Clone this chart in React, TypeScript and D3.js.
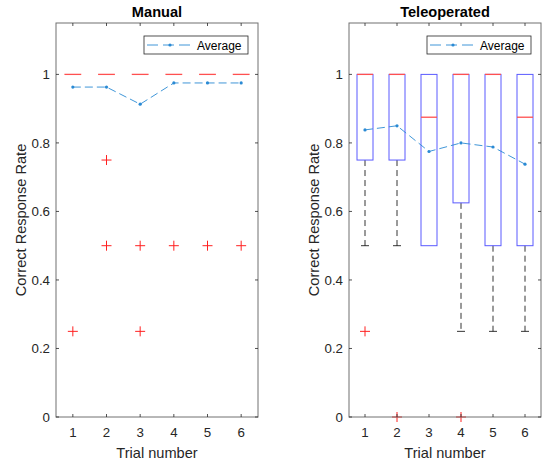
import React from 'react'
import { scaleLinear, line } from 'd3'

// values
const trials = [1, 2, 3, 4, 5, 6]
const yTicks = [0, 0.2, 0.4, 0.6, 0.8, 1]

const manualQ1 = [1, 1, 1, 1, 1, 1]
const manualMedian = [1, 1, 1, 1, 1, 1]
const manualQ3 = [1, 1, 1, 1, 1, 1]
const manualWhiskerLow = [1, 1, 1, 1, 1, 1]
const manualWhiskerHigh = [1, 1, 1, 1, 1, 1]
const manualOutliers = [[0.25], [0.75, 0.5], [0.5, 0.25], [0.5], [0.5], [0.5]]
const manualAverage = [0.963, 0.963, 0.913, 0.975, 0.975, 0.975]

const teleQ1 = [0.75, 0.75, 0.5, 0.625, 0.5, 0.5]
const teleMedian = [1, 1, 0.875, 1, 1, 0.875]
const teleQ3 = [1, 1, 1, 1, 1, 1]
const teleWhiskerLow = [0.5, 0.5, 0.5, 0.25, 0.25, 0.25]
const teleWhiskerHigh = [1, 1, 1, 1, 1, 1]
const teleOutliers = [[0.25], [0], [], [0], [], []]
const teleAverage = [0.838, 0.85, 0.775, 0.8, 0.788, 0.738]

const FONT = '"Liberation Sans", Arial, Helvetica, sans-serif'
const AXIS = '#262626'
const AVG = '#2a8ad4'

type PanelProps = {
  title: string
  left: number
  right: number
  q1: number[]
  median: number[]
  q3: number[]
  wLow: number[]
  wHigh: number[]
  outliers: number[][]
  average: number[]
}

const top = 23
const bottom = 417

function Panel(props: PanelProps) {
  const { title, left, right, q1, median, q3, wLow, wHigh, outliers, average } = props
  const x = scaleLinear().domain([0.5, 6.5]).range([left, right])
  const y = scaleLinear().domain([0, 1.15]).range([bottom, top])
  const boxW = x(1.25) - x(1)
  const capW = x(1.125) - x(1)
  const avgLine = line<number>()
    .x((d, i) => x(trials[i]))
    .y((d) => y(d))

  const legRight = right - 10
  const legLeft = legRight - 104
  const legTop = 36
  const legH = 18

  return (
    <g>
      <text x={(left + right) / 2} y={17} textAnchor="middle" fontFamily={FONT}
        fontWeight="bold" fontSize={14.6} fill="#000">{title}</text>

      {/* boxes */}
      {trials.map((t, i) => (
        <g key={'box' + t}>
          {wLow[i] < q1[i] && (
            <g>
              <line x1={x(t)} x2={x(t)} y1={y(q1[i])} y2={y(wLow[i])} stroke="#000"
                strokeWidth={0.8} strokeDasharray="6,4" />
              <line x1={x(t) - capW} x2={x(t) + capW} y1={y(wLow[i])} y2={y(wLow[i])}
                stroke="#000" strokeWidth={0.8} />
            </g>
          )}
          {wHigh[i] > q3[i] && (
            <g>
              <line x1={x(t)} x2={x(t)} y1={y(q3[i])} y2={y(wHigh[i])} stroke="#000"
                strokeWidth={0.8} strokeDasharray="6,4" />
              <line x1={x(t) - capW} x2={x(t) + capW} y1={y(wHigh[i])} y2={y(wHigh[i])}
                stroke="#000" strokeWidth={0.8} />
            </g>
          )}
          <rect x={x(t) - boxW} width={boxW * 2} y={y(q3[i])}
            height={Math.max(0, y(q1[i]) - y(q3[i]))} fill="none" stroke="#5a5aff" strokeWidth={1} />
          <line x1={x(t) - boxW} x2={x(t) + boxW} y1={y(median[i])} y2={y(median[i])}
            stroke="#ff5050" strokeWidth={1.3} />
          {outliers[i].map((o, j) => (
            <path key={j} d={`M${x(t) - 5},${y(o)}H${x(t) + 5}M${x(t)},${y(o) - 5}V${y(o) + 5}`}
              stroke="#ff2020" strokeWidth={1} fill="none" />
          ))}
        </g>
      ))}

      {/* average */}
      <path d={avgLine(average) || ''} fill="none" stroke={AVG} strokeWidth={0.9}
        strokeDasharray="8,4" />
      {average.map((a, i) => (
        <circle key={'av' + i} cx={x(trials[i])} cy={y(a)} r={1.6} fill={AVG} />
      ))}

      {/* frame and ticks */}
      <rect x={left} y={top} width={right - left} height={bottom - top} fill="none"
        stroke="#707070" strokeWidth={1} />
      {trials.map((t) => (
        <g key={'xt' + t}>
          <line x1={x(t)} x2={x(t)} y1={bottom} y2={bottom - 3} stroke={AXIS} strokeWidth={0.8} />
          <line x1={x(t)} x2={x(t)} y1={top} y2={top + 3} stroke={AXIS} strokeWidth={0.8} />
          <text x={x(t)} y={437} textAnchor="middle" fontFamily={FONT} fontSize={13.3}
            fill={AXIS}>{t}</text>
        </g>
      ))}
      {yTicks.map((v) => (
        <g key={'yt' + v}>
          <line x1={left} x2={left + 3} y1={y(v)} y2={y(v)} stroke={AXIS} strokeWidth={0.8} />
          <line x1={right} x2={right - 3} y1={y(v)} y2={y(v)} stroke={AXIS} strokeWidth={0.8} />
          <text x={left - 6} y={y(v) + 4.6} textAnchor="end" fontFamily={FONT} fontSize={13.3}
            fill={AXIS}>{v}</text>
        </g>
      ))}
      <text x={(left + right) / 2} y={458} textAnchor="middle" fontFamily={FONT}
        fontSize={14.6} fill={AXIS}>Trial number</text>
      <text transform={`translate(${left - 30},${(top + bottom) / 2}) rotate(-90)`}
        textAnchor="middle" fontFamily={FONT} fontSize={14.6} fill={AXIS}>Correct Response Rate</text>

      {/* legend */}
      <rect x={legLeft} y={legTop} width={legRight - legLeft} height={legH} fill="#fff"
        stroke={AXIS} strokeWidth={0.8} />
      <line x1={legLeft + 3} x2={legLeft + 47} y1={legTop + legH / 2} y2={legTop + legH / 2}
        stroke={AVG} strokeWidth={0.9} strokeDasharray="11,5" />
      <circle cx={legLeft + 26} cy={legTop + legH / 2} r={1.6} fill={AVG} />
      <text x={legLeft + 53} y={legTop + 13.5} fontFamily={FONT} fontSize={12} fill="#000">Average</text>
    </g>
  )
}

export default function App() {
  return (
    <svg width={544} height={465} style={{ position: 'absolute', left: 0, top: 0, background: '#fff' }}>
      <rect width={544} height={465} fill="#fff" />
      <Panel title="Manual" left={56} right={258} q1={manualQ1} median={manualMedian}
        q3={manualQ3} wLow={manualWhiskerLow} wHigh={manualWhiskerHigh}
        outliers={manualOutliers} average={manualAverage} />
      <Panel title="Teleoperated" left={349} right={541} q1={teleQ1} median={teleMedian}
        q3={teleQ3} wLow={teleWhiskerLow} wHigh={teleWhiskerHigh}
        outliers={teleOutliers} average={teleAverage} />
    </svg>
  )
}
